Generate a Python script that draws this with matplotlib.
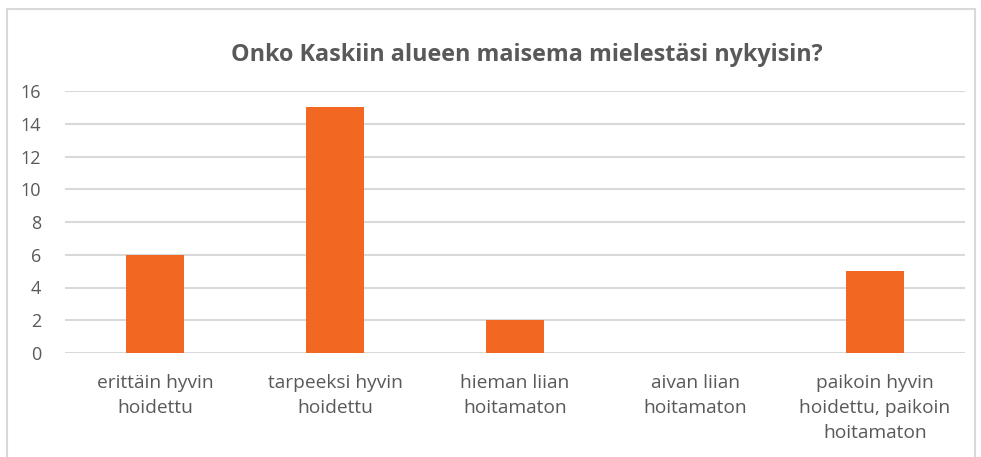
import matplotlib.pyplot as plt
from matplotlib.patches import Rectangle

categories = ["erittäin hyvin\nhoidettu", "tarpeeksi hyvin\nhoidettu", "hieman liian\nhoitamaton",
              "aivan liian\nhoitamaton", "paikoin hyvin\nhoidettu, paikoin\nhoitamaton"]
values = [6, 15, 2, 0, 5]
yticks = [0, 2, 4, 6, 8, 10, 12, 14, 16]

plt.rcParams['font.family'] = ['Open Sans', 'DejaVu Sans']
grey = '#595959'

fig = plt.figure(figsize=(9.81, 4.57), dpi=100)
ax = fig.add_axes([65/981, 1-353/457, 900/981, (353-91)/457])

x = range(len(categories))
ax.bar(x, values, width=0.32, color='#F26722', zorder=3)

ax.set_xlim(-0.5, len(categories)-0.5)
ax.set_ylim(0, 16)
ax.set_yticks(yticks)
ax.set_xticks(list(x))
ax.set_xticklabels(categories, fontsize=13.8, color=grey, linespacing=1.52, va='top')
ax.tick_params(axis='y', labelsize=13, labelcolor=grey, length=0, pad=17)
ax.tick_params(axis='x', length=0, pad=15)
ax.grid(axis='y', color='#D9D9D9', linewidth=1.5, zorder=0)
for s in ax.spines.values():
    s.set_visible(False)

fig.text(527/981, 1-55/457, "Onko Kaskiin alueen maisema mielestäsi nykyisin?",
         ha='center', va='center', fontsize=16.8, fontweight='bold', color=grey)

fig.patches.append(Rectangle((7/981, -0.05), 968/981, 1.05-9/457, transform=fig.transFigure,
                             fill=False, edgecolor='#D9D9D9', linewidth=1.5))

fig.savefig('out.png', dpi=100)
